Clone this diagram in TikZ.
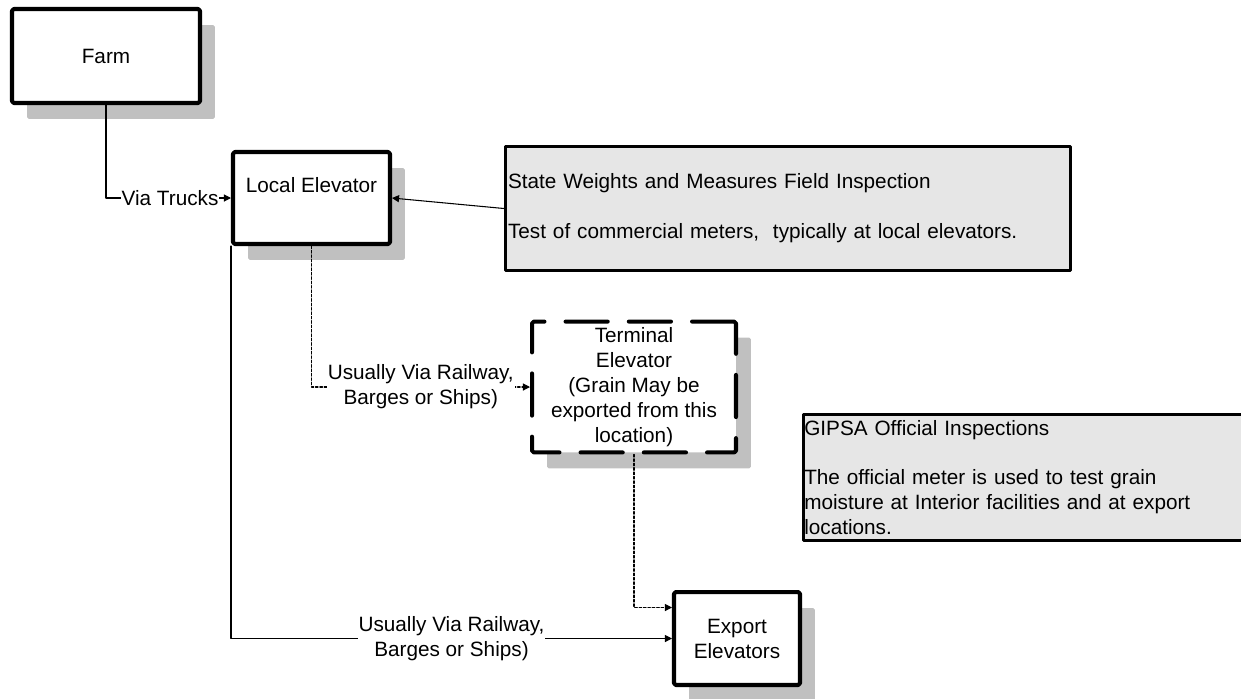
\documentclass[tikz,border=0pt]{standalone}
\usepackage{fontspec}
\setmainfont{Liberation Sans}
\usetikzlibrary{arrows.meta}
\usetikzlibrary{shadows}
\definecolor{shadowgray}{RGB}{192,192,192}
\definecolor{notegray}{RGB}{230,230,230}
\tikzset{
box/.style={draw, line width=2.3pt, fill=white, rounded corners=1pt, align=center,
  drop shadow={shadow xshift=0.3cm, shadow yshift=-0.32cm, fill=shadowgray, opacity=1}},
note/.style={draw, line width=1.8pt, fill=notegray, align=left},
link/.style={->, line width=0.6pt},
dlink/.style={->, line width=0.6pt, dash pattern=on 1.5pt off 1pt},
lbl/.style={fill=white, inner sep=0.5pt, align=center}
}

\begin{document}
\begin{tikzpicture}[line cap=round,line join=round,>={Triangle[length=4pt,width=4pt]},x=0.02cm,y=-0.02cm,font=\fontsize{11.8}{14.2}\selectfont]
\clip(0,0) rectangle (1241,698);
\node [box, minimum width=3.76cm, minimum height=1.88cm] (farm) at (106,56) {Farm};
\node [box, minimum width=3.14cm, minimum height=1.84cm, text depth=0.52cm] (local) at (311.5,198) {Local Elevator};
\node [box, minimum width=4.08cm, minimum height=2.44cm, dash pattern=on 24pt off 12pt] (term) at (634,387) {Terminal\\Elevator\\(Grain May be\\exported from this\\location)};
\node [box, minimum width=2.52cm, minimum height=1.86cm] (export) at (737,638.5) {Export\\Elevators};
\node [note, text width=11.2cm, minimum height=2.48cm, inner xsep=0.05cm] (state) at (788,208.5) {State Weights and Measures Field Inspection\\[0.5cm]Test of commercial meters,\ \ typically at local elevators.};
\node [note, text width=8.9cm, minimum height=2.48cm, inner xsep=0.5pt] (gipsa) at (1026.75,477.5) {GIPSA Official Inspections\\[0.5cm]The official meter is used to test grain\\moisture at Interior facilities and at export\\locations.};
\draw [link] (farm.south) |- node [lbl, pos=0.756] {Via Trucks} (local.west);
\draw [link] (state.west) -- (local.east);
\draw [dlink] (local.south) |- node [lbl, pos=0.75] {Usually Via Railway,\\Barges or Ships)} (term.west);
\draw [link] (local.south west) |- node [lbl, pos=0.75] {Usually Via Railway,\\Barges or Ships)} (export.west);
\draw [dlink] (term.south) |- ([yshift=0.62cm]export.west);
\end{tikzpicture}
\end{document}
